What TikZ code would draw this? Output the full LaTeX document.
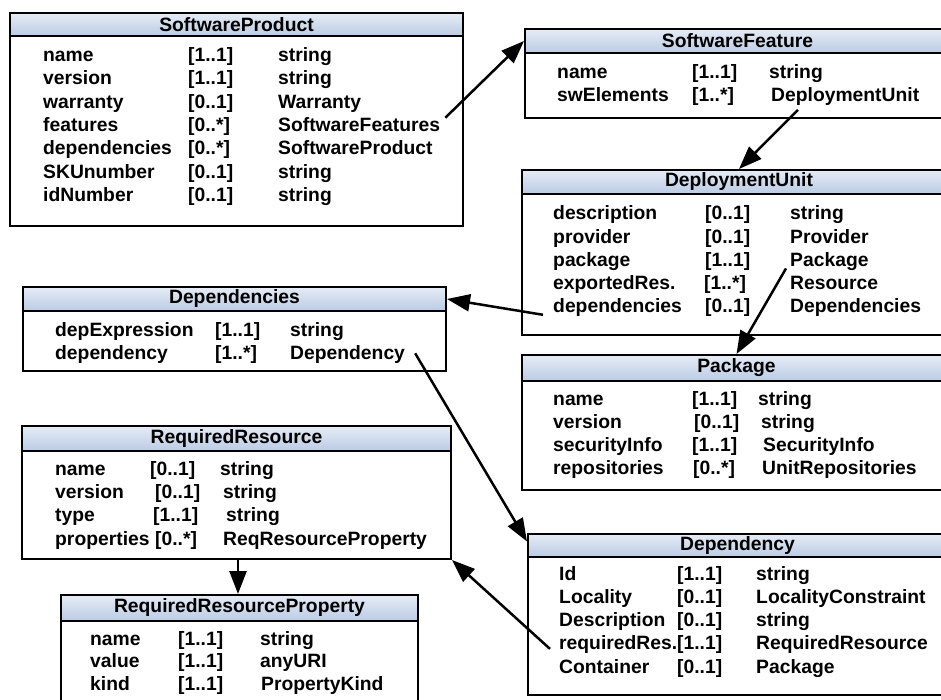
\documentclass[tikz,border=0pt]{standalone}
\usepackage{fontspec}
\setmainfont{Liberation Sans}
\usetikzlibrary{arrows.meta}
\definecolor{hdtop}{RGB}{230,236,246}
\definecolor{hdbot}{RGB}{186,203,228}
\tikzset{
  classbox/.style={draw=black, line width=2pt, fill=white, rectangle, inner sep=0pt},
  classhead/.style={draw=black, line width=2pt, rectangle, inner sep=0pt, top color=hdtop, bottom color=hdbot,
    font=\fontsize{19.3}{23}\selectfont\bfseries, text=black},
  cell/.style={anchor=base west, inner sep=0pt, font=\fontsize{19.3}{23}\selectfont\bfseries},
  arr/.style={line width=2.5pt, -{Triangle[length=23pt,width=17pt]}}
}
% #1 name, #2 x0, #3 y0, #4 x1, #5 header bottom, #6 y1, #7 title
\newcommand\umlclass[7]{%
  \node[classbox, minimum width={#4-#2}, minimum height={#6-#3}, anchor=north west] (#1) at (#2,#3) {};
  \node[classhead, minimum width={#4-#2}, minimum height={#5-#3}, anchor=north west] (#1-h) at (#2,#3) {#7};
}
% #1 prefix, #2 x of name column, #3 first baseline, #4 spacing, #5 rows
\newcommand\umlrows[5]{%
  \foreach [count=\i] \a/\m/\t/\xb/\xc in {#5} {
    \node[cell] (#1-\i-a) at (#2, {#3+(\i-1)*#4}) {\a};
    \node[cell] (#1-\i-b) at (\xb, {#3+(\i-1)*#4}) {\m};
    \node[cell] (#1-\i-c) at (\xc, {#3+(\i-1)*#4}) {\t};
  }
}
\begin{document}
\begin{tikzpicture}[x=1pt,y=-1pt]
\useasboundingbox[fill=white] (0,0) rectangle (941,700);

% SoftwareProduct
\umlclass{sp}{9}{12}{462}{35}{225}{SoftwareProduct}
\umlrows{sp}{43}{61.7}{23.3}{
  {name}/{[1..1]}/{string}/188/278,
  {version}/{[1..1]}/{string}/188/278,
  {warranty}/{[0..1]}/{Warranty}/188/278,
  {features}/{[0..*]}/{SoftwareFeatures}/188/278,
  {dependencies}/{[0..*]}/{SoftwareProduct}/188/278,
  {SKUnumber}/{[0..1]}/{string}/188/278,
  {idNumber}/{[0..1]}/{string}/188/278}

% SoftwareFeature
\umlclass{sf}{524}{28}{949}{52}{117}{SoftwareFeature}
\umlrows{sf}{557}{78.3}{23.4}{
  {name}/{[1..1]}/{string}/692/769,
  {swElements}/{[1..*]}/{DeploymentUnit}/692/771}

% DeploymentUnit
\umlclass{du}{521}{169}{955}{193}{334}{DeploymentUnit}
\umlrows{du}{553}{220}{23.2}{
  {description}/{[0..1]}/{string}/705/790,
  {provider}/{[0..1]}/{Provider}/705/790,
  {package}/{[1..1]}/{Package}/705/790,
  {exportedRes.}/{[1..*]}/{Resource}/704/790,
  {dependencies}/{[0..1]}/{Dependencies}/705/790}

% Package
\umlclass{pk}{521}{354}{950}{380}{489}{Package}
\umlrows{pk}{553}{405}{23.1}{
  {name}/{[1..1]}/{string}/692/758,
  {version}/{[0..1]}/{string}/694/761,
  {securityInfo}/{[1..1]}/{SecurityInfo}/692/763,
  {repositories}/{[0..*]}/{UnitRepositories}/693/762}

% Dependencies
\umlclass{ds}{22}{286}{445}{310}{370}{Dependencies}
\umlrows{ds}{55}{336}{23.3}{
  {depExpression}/{[1..1]}/{string}/215/290,
  {dependency}/{[1..*]}/{Dependency}/215/290}

% RequiredResource
\umlclass{rr}{21}{425}{450}{450}{558}{RequiredResource}
\umlrows{rr}{55}{475.7}{23.1}{
  {name}/{[0..1]}/{string}/150/220,
  {version}/{[0..1]}/{string}/155/223,
  {type}/{[1..1]}/{string}/153/226,
  {properties}/{[0..*]}/{ReqResourceProperty}/155/223}

% RequiredResourceProperty
\umlclass{rrp}{60}{594}{417}{620}{712}{RequiredResourceProperty}
\umlrows{rrp}{90}{645}{22.8}{
  {name}/{[1..1]}/{string}/178/260,
  {value}/{[1..1]}/{anyURI}/178/260,
  {kind}/{[1..1]}/{PropertyKind}/178/261}

% Dependency
\umlclass{dp}{527}{533}{946}{556}{694}{Dependency}
\umlrows{dp}{559}{580}{23.3}{
  {Id}/{[1..1]}/{string}/677/756,
  {Locality}/{[0..1]}/{LocalityConstraint}/677/756,
  {Description}/{[0..1]}/{string}/677/756,
  {requiredRes.}/{[1..1]}/{RequiredResource}/677/756,
  {Container}/{[0..1]}/{Package}/677/756}

% connectors
\draw[arr] ([shift={(5,-7)}]sp-4-c.east) -- (sf-h.west);
\draw[arr] ([shift={(27,4)}]sf-2-c.south west) -- (du-h.north);
\draw[arr] ([shift={(-4,7)}]du-3-c.west) -- (pk-h.north);
\draw[arr] ([shift={(-10,2)}]du-5-a.base west) -- (ds-h.east);
\draw[arr] ([shift={(10,-1)}]ds-2-c.east) -- ([shift={(0,-4)}]dp-h.west);
\draw[arr] ([shift={(-9,-1)}]dp-4-a.base west) -- (rr.south east);
\draw[arr] ([xshift=1.5pt]rr.south) -- ([xshift=1.5pt]rr.south |- rrp.north);
\end{tikzpicture}
\end{document}
